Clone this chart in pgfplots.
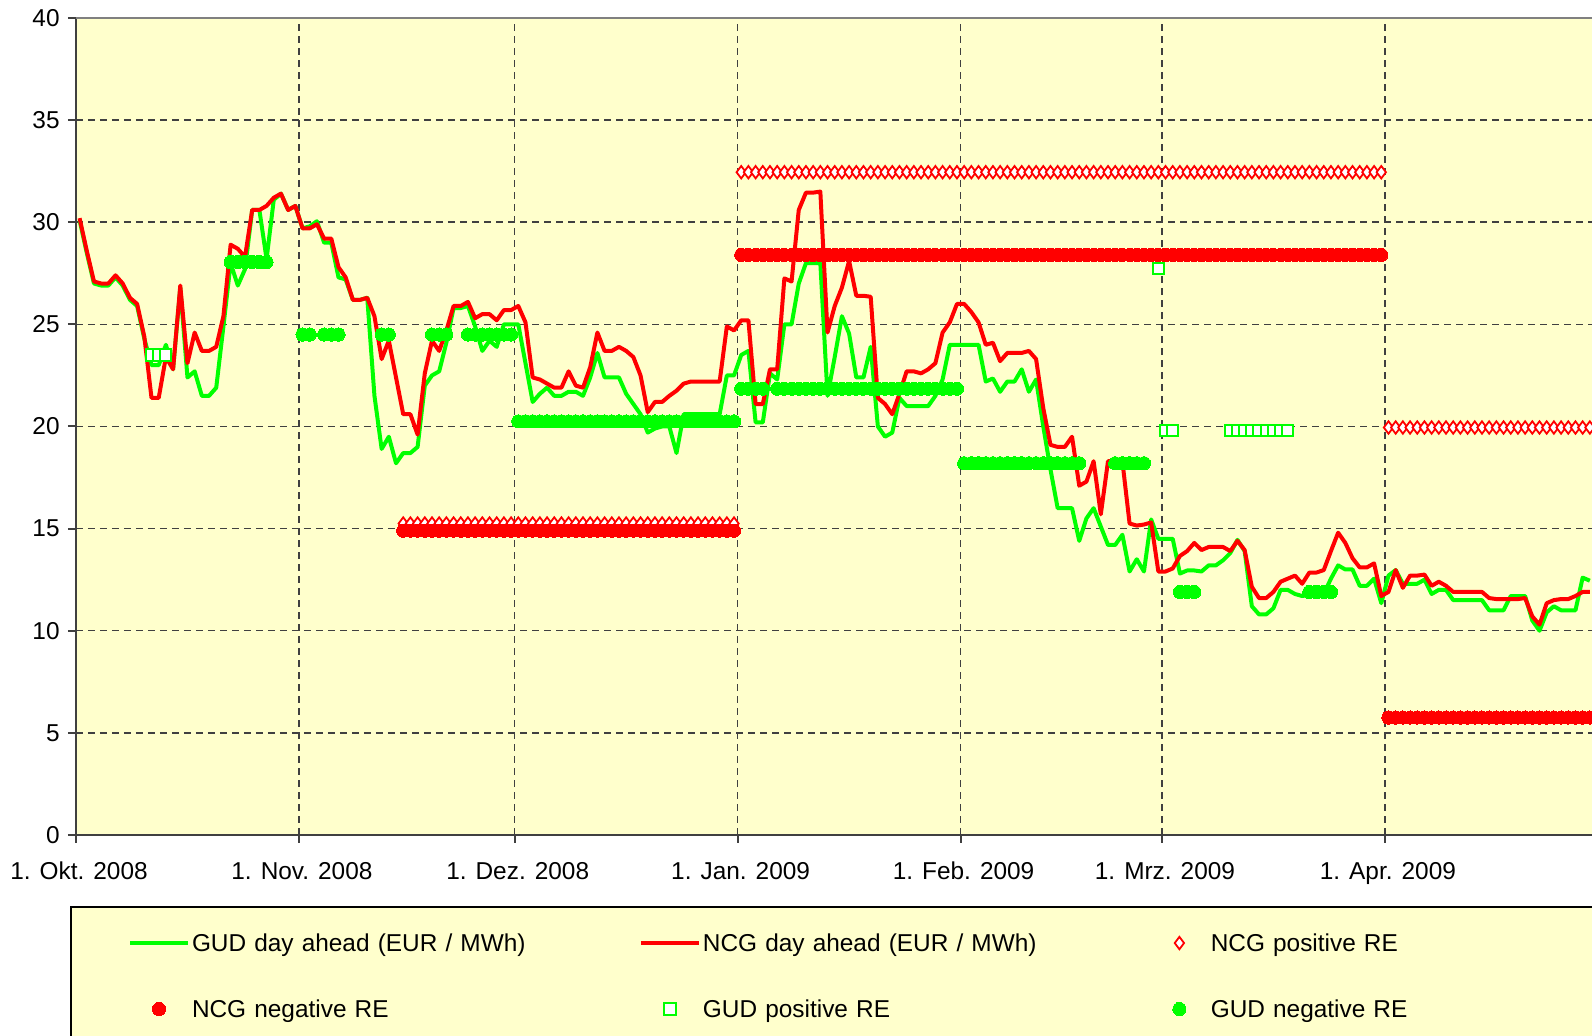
\documentclass[border=0pt]{standalone}
\usepackage{pgfplots}
\usepackage{pgfplotstable}
\pgfplotsset{compat=1.18}
\usepackage{fontspec}
\setmainfont{Liberation Sans}
\definecolor{bgyellow}{HTML}{FFFFCC}
\definecolor{xlgreen}{HTML}{00FF00}
\definecolor{xlred}{HTML}{FF0000}
\definecolor{griddark}{HTML}{404040}
\pgfplotsset{
  mylegimg/.style={legend image code/.code={\path (0pt,1.2pt) (29pt,1.2pt);\draw[mark repeat=2,mark phase=2,##1] plot coordinates {(0pt,1.2pt) (14.5pt,1.2pt) (29pt,1.2pt)};}},
}

\pgfplotstableread{
x y
0 30.1
1 28.5
2 27.0
3 26.9
4 26.9
5 27.3
6 26.9
7 26.2
8 25.9
9 24.3
10 23.0
11 23.0
12 24.0
13 22.8
14 26.8
15 22.4
16 22.7
17 21.5
18 21.5
19 21.9
20 24.9
21 28.0
22 26.9
23 27.7
24 30.6
25 30.6
26 28.2
27 31.1
28 31.4
29 30.6
30 30.8
31 29.7
32 29.8
33 30.05
34 29.0
35 29.0
36 27.3
37 27.2
38 26.2
39 26.2
40 26.3
41 21.5
42 18.9
43 19.5
44 18.2
45 18.7
46 18.7
47 19.0
48 22.0
49 22.5
50 22.7
51 24.1
52 25.8
53 25.8
54 25.9
55 24.9
56 23.7
57 24.2
58 23.9
59 25.0
60 25.0
61 25.0
62 23.1
63 21.2
64 21.6
65 21.9
66 21.5
67 21.5
68 21.7
69 21.7
70 21.5
71 22.4
72 23.6
73 22.4
74 22.4
75 22.4
76 21.6
77 21.1
78 20.6
79 19.7
80 19.9
81 20.0
82 20.0
83 18.7
84 20.6
85 20.6
86 20.6
87 20.6
88 20.6
89 20.6
90 22.5
91 22.5
92 23.5
93 23.7
94 20.2
95 20.2
96 22.6
97 22.3
98 25.0
99 25.0
100 27.0
101 28.0
102 28.0
103 28.0
104 21.5
105 23.4
106 25.4
107 24.55
108 22.4
109 22.4
110 23.9
111 20.0
112 19.5
113 19.7
114 21.4
115 21.0
116 21.0
117 21.0
118 21.0
119 21.5
120 22.3
121 24.0
122 24.0
123 24.0
124 24.0
125 24.0
126 22.2
127 22.35
128 21.7
129 22.2
130 22.2
131 22.8
132 21.7
133 22.3
134 20.0
135 17.9
136 16.0
137 16.0
138 16.0
139 14.4
140 15.5
141 16.0
142 15.1
143 14.2
144 14.2
145 14.7
146 12.9
147 13.5
148 12.9
149 15.45
150 14.5
151 14.5
152 14.5
153 12.8
154 12.95
155 12.95
156 12.9
157 13.2
158 13.2
159 13.45
160 13.8
161 14.45
162 13.9
163 11.2
164 10.8
165 10.8
166 11.1
167 12.0
168 12.0
169 11.8
170 11.7
171 11.75
172 11.75
173 11.8
174 12.55
175 13.2
176 13.0
177 13.0
178 12.2
179 12.2
180 12.55
181 11.35
182 12.7
183 12.97
184 12.3
185 12.3
186 12.3
187 12.5
188 11.8
189 12.0
190 12.0
191 11.5
192 11.5
193 11.5
194 11.5
195 11.5
196 11.0
197 11.0
198 11.0
199 11.7
200 11.7
201 11.7
202 10.5
203 10.0
204 10.9
205 11.2
206 11.0
207 11.0
208 11.0
209 12.6
210 12.45
}\gud

\pgfplotstableread{
x y
0 30.2
1 28.6
2 27.1
3 27.0
4 27.0
5 27.4
6 27.0
7 26.3
8 26.0
9 24.4
10 21.4
11 21.4
12 23.4
13 22.8
14 26.9
15 23.1
16 24.6
17 23.7
18 23.7
19 23.9
20 25.4
21 28.9
22 28.7
23 28.3
24 30.6
25 30.6
26 30.8
27 31.2
28 31.4
29 30.6
30 30.8
31 29.7
32 29.7
33 29.9
34 29.2
35 29.2
36 27.8
37 27.3
38 26.2
39 26.2
40 26.3
41 25.4
42 23.3
43 24.2
44 22.4
45 20.6
46 20.6
47 19.6
48 22.6
49 24.2
50 23.7
51 24.7
52 25.9
53 25.9
54 26.1
55 25.3
56 25.5
57 25.5
58 25.2
59 25.7
60 25.7
61 25.9
62 25.1
63 22.4
64 22.3
65 22.1
66 21.9
67 21.9
68 22.7
69 22.0
70 21.9
71 22.9
72 24.6
73 23.7
74 23.7
75 23.9
76 23.7
77 23.4
78 22.5
79 20.7
80 21.2
81 21.2
82 21.5
83 21.75
84 22.1
85 22.2
86 22.2
87 22.2
88 22.2
89 22.2
90 24.9
91 24.7
92 25.2
93 25.2
94 21.1
95 21.1
96 22.8
97 22.8
98 27.25
99 27.1
100 30.6
101 31.45
102 31.45
103 31.5
104 24.6
105 25.9
106 26.8
107 28.1
108 26.4
109 26.4
110 26.35
111 21.4
112 21.1
113 20.6
114 21.6
115 22.7
116 22.7
117 22.6
118 22.8
119 23.1
120 24.6
121 25.1
122 26.0
123 26.0
124 25.6
125 25.1
126 24.0
127 24.1
128 23.2
129 23.6
130 23.6
131 23.6
132 23.7
133 23.3
134 20.9
135 19.1
136 19.0
137 19.0
138 19.5
139 17.1
140 17.3
141 18.3
142 15.7
143 18.3
144 18.3
145 18.3
146 15.25
147 15.15
148 15.2
149 15.3
150 12.9
151 12.9
152 13.05
153 13.66
154 13.9
155 14.3
156 13.95
157 14.1
158 14.1
159 14.1
160 13.9
161 14.4
162 13.95
163 12.15
164 11.6
165 11.6
166 11.9
167 12.4
168 12.55
169 12.7
170 12.3
171 12.85
172 12.85
173 12.97
174 13.9
175 14.8
176 14.3
177 13.55
178 13.1
179 13.1
180 13.3
181 11.7
182 11.9
183 12.97
184 12.1
185 12.7
186 12.7
187 12.75
188 12.2
189 12.4
190 12.2
191 11.9
192 11.9
193 11.9
194 11.9
195 11.9
196 11.6
197 11.55
198 11.55
199 11.55
200 11.55
201 11.6
202 10.7
203 10.3
204 11.35
205 11.5
206 11.55
207 11.55
208 11.7
209 11.9
210 11.9
}\ncg

\begin{document}
\begin{tikzpicture}
\useasboundingbox (-38pt,-100.5pt) rectangle (758pt,417.5pt);
\fill[bgyellow] (-2.5pt,-36pt) rectangle (758pt,-100.5pt);
\draw[black, line width=0.6pt] (758pt,-36pt) -- (-2.5pt,-36pt) -- (-2.5pt,-100.5pt);
\begin{axis}[
  at={(0pt,0pt)}, anchor=south west,
  scale only axis, width=758pt, height=408.5pt,
  xmin=-0.5, xmax=210.3, ymin=0, ymax=40,
  axis x line*=bottom, axis y line*=left,
  axis line style={line width=1pt, color=griddark},
  axis background/.style={fill=bgyellow},
  tick align=outside, major tick length=4pt,
  tick style={line width=1pt, color=griddark},
  xtick={-0.5,30.5,60.5,91.5,122.5,150.5,181.5},
  xticklabels={1. Okt. 2008,1. Nov. 2008,1. Dez. 2008,1. Jan. 2009,1. Feb. 2009,1. Mrz. 2009,1. Apr. 2009},
  ytick={0,5,...,40},
  grid=major,
  major grid style={dash pattern=on 3.7pt off 2.3pt, line width=0.75pt, color=griddark},
  /pgf/number format/assume math mode=true,
  tick label style={font=\fontsize{12.2}{15}\selectfont},
  xticklabel style={anchor=north, inner sep=0pt, text height=9pt, text depth=0pt, yshift=-9pt, xshift=1.5pt},
  yticklabel style={anchor=east, inner sep=0pt, xshift=-4pt},
  legend columns=3,
  legend cell align=left,
  legend style={at={(axis description cs:0.0343,-0.1205)}, anchor=north west,
    draw=none, fill=none, inner sep=0pt, outer sep=0pt,
    row sep=21pt, column sep=0pt,
    nodes={inner xsep=1pt, inner ysep=0pt, text width=222.5pt, text height=9pt, text depth=3pt, align=left, font=\fontsize{12.2}{15}\selectfont}},
  mylegimg,
]
\addplot[xlgreen, line width=2pt, line join=round, no markers] table[x=x,y=y] {\gud};
\addlegendentry{GUD day ahead (EUR / MWh)}
\addplot[xlred, line width=2pt, line join=round, no markers] table[x=x,y=y] {\ncg};
\addlegendentry{NCG day ahead (EUR / MWh)}
\addplot[only marks, mark=diamond*, mark size=3.1pt, mark options={draw=xlred, fill=white, line width=0.9pt}] coordinates {
(45,15.25) (46,15.25) (47,15.25) (48,15.25) (49,15.25) (50,15.25) (51,15.25) (52,15.25) (53,15.25) (54,15.25)
(55,15.25) (56,15.25) (57,15.25) (58,15.25) (59,15.25) (60,15.25) (61,15.25) (62,15.25) (63,15.25) (64,15.25)
(65,15.25) (66,15.25) (67,15.25) (68,15.25) (69,15.25) (70,15.25) (71,15.25) (72,15.25) (73,15.25) (74,15.25)
(75,15.25) (76,15.25) (77,15.25) (78,15.25) (79,15.25) (80,15.25) (81,15.25) (82,15.25) (83,15.25) (84,15.25)
(85,15.25) (86,15.25) (87,15.25) (88,15.25) (89,15.25) (90,15.25) (91,15.25)
(92,32.45) (93,32.45) (94,32.45) (95,32.45) (96,32.45) (97,32.45) (98,32.45) (99,32.45) (100,32.45) (101,32.45)
(102,32.45) (103,32.45) (104,32.45) (105,32.45) (106,32.45) (107,32.45) (108,32.45) (109,32.45) (110,32.45) (111,32.45)
(112,32.45) (113,32.45) (114,32.45) (115,32.45) (116,32.45) (117,32.45) (118,32.45) (119,32.45) (120,32.45) (121,32.45)
(122,32.45) (123,32.45) (124,32.45) (125,32.45) (126,32.45) (127,32.45) (128,32.45) (129,32.45) (130,32.45) (131,32.45)
(132,32.45) (133,32.45) (134,32.45) (135,32.45) (136,32.45) (137,32.45) (138,32.45) (139,32.45) (140,32.45) (141,32.45)
(142,32.45) (143,32.45) (144,32.45) (145,32.45) (146,32.45) (147,32.45) (148,32.45) (149,32.45) (150,32.45) (151,32.45)
(152,32.45) (153,32.45) (154,32.45) (155,32.45) (156,32.45) (157,32.45) (158,32.45) (159,32.45) (160,32.45) (161,32.45)
(162,32.45) (163,32.45) (164,32.45) (165,32.45) (166,32.45) (167,32.45) (168,32.45) (169,32.45) (170,32.45) (171,32.45)
(172,32.45) (173,32.45) (174,32.45) (175,32.45) (176,32.45) (177,32.45) (178,32.45) (179,32.45) (180,32.45) (181,32.45)
(182,19.95) (183,19.95) (184,19.95) (185,19.95) (186,19.95) (187,19.95) (188,19.95) (189,19.95) (190,19.95) (191,19.95)
(192,19.95) (193,19.95) (194,19.95) (195,19.95) (196,19.95) (197,19.95) (198,19.95) (199,19.95) (200,19.95) (201,19.95)
(202,19.95) (203,19.95) (204,19.95) (205,19.95) (206,19.95) (207,19.95) (208,19.95) (209,19.95) (210,19.95)
};
\addlegendentry{NCG positive RE}
\addplot[only marks, mark=*, mark size=3.3pt, mark options={draw=xlred, fill=xlred, line width=0pt}] coordinates {
(45,14.9) (46,14.9) (47,14.9) (48,14.9) (49,14.9) (50,14.9) (51,14.9) (52,14.9) (53,14.9) (54,14.9)
(55,14.9) (56,14.9) (57,14.9) (58,14.9) (59,14.9) (60,14.9) (61,14.9) (62,14.9) (63,14.9) (64,14.9)
(65,14.9) (66,14.9) (67,14.9) (68,14.9) (69,14.9) (70,14.9) (71,14.9) (72,14.9) (73,14.9) (74,14.9)
(75,14.9) (76,14.9) (77,14.9) (78,14.9) (79,14.9) (80,14.9) (81,14.9) (82,14.9) (83,14.9) (84,14.9)
(85,14.9) (86,14.9) (87,14.9) (88,14.9) (89,14.9) (90,14.9) (91,14.9)
(92,28.4) (93,28.4) (94,28.4) (95,28.4) (96,28.4) (97,28.4) (98,28.4) (99,28.4) (100,28.4) (101,28.4)
(102,28.4) (103,28.4) (104,28.4) (105,28.4) (106,28.4) (107,28.4) (108,28.4) (109,28.4) (110,28.4) (111,28.4)
(112,28.4) (113,28.4) (114,28.4) (115,28.4) (116,28.4) (117,28.4) (118,28.4) (119,28.4) (120,28.4) (121,28.4)
(122,28.4) (123,28.4) (124,28.4) (125,28.4) (126,28.4) (127,28.4) (128,28.4) (129,28.4) (130,28.4) (131,28.4)
(132,28.4) (133,28.4) (134,28.4) (135,28.4) (136,28.4) (137,28.4) (138,28.4) (139,28.4) (140,28.4) (141,28.4)
(142,28.4) (143,28.4) (144,28.4) (145,28.4) (146,28.4) (147,28.4) (148,28.4) (149,28.4) (150,28.4) (151,28.4)
(152,28.4) (153,28.4) (154,28.4) (155,28.4) (156,28.4) (157,28.4) (158,28.4) (159,28.4) (160,28.4) (161,28.4)
(162,28.4) (163,28.4) (164,28.4) (165,28.4) (166,28.4) (167,28.4) (168,28.4) (169,28.4) (170,28.4) (171,28.4)
(172,28.4) (173,28.4) (174,28.4) (175,28.4) (176,28.4) (177,28.4) (178,28.4) (179,28.4) (180,28.4) (181,28.4)
(182,5.75) (183,5.75) (184,5.75) (185,5.75) (186,5.75) (187,5.75) (188,5.75) (189,5.75) (190,5.75) (191,5.75)
(192,5.75) (193,5.75) (194,5.75) (195,5.75) (196,5.75) (197,5.75) (198,5.75) (199,5.75) (200,5.75) (201,5.75)
(202,5.75) (203,5.75) (204,5.75) (205,5.75) (206,5.75) (207,5.75) (208,5.75) (209,5.75) (210,5.75)
};
\addlegendentry{NCG negative RE}
\addplot[only marks, mark=square*, mark size=2.8pt, mark options={draw=xlgreen, fill=white, line width=1pt}] coordinates {
(10,23.5) (11,23.5) (12,23.5) (150,27.75) (151,19.8) (152,19.8)
(160,19.8) (161,19.8) (162,19.8) (163,19.8) (164,19.8) (165,19.8) (166,19.8) (167,19.8) (168,19.8)
};
\addlegendentry{GUD positive RE}
\addplot[only marks, mark=*, mark size=3.3pt, mark options={draw=xlgreen, fill=xlgreen, line width=0pt}] coordinates {
(21,28.05) (22,28.05) (23,28.05) (24,28.05) (25,28.05) (26,28.05)
(31,24.5) (32,24.5) (34,24.5) (35,24.5) (36,24.5) (42,24.5) (43,24.5)
(49,24.5) (50,24.5) (51,24.5) (54,24.5) (55,24.5) (56,24.5) (57,24.5) (58,24.5) (59,24.5) (60,24.5)
(61,20.25) (62,20.25) (63,20.25) (64,20.25) (65,20.25) (66,20.25) (67,20.25) (68,20.25) (69,20.25) (70,20.25)
(71,20.25) (72,20.25) (73,20.25) (74,20.25) (75,20.25) (76,20.25) (77,20.25) (78,20.25) (79,20.25) (80,20.25)
(81,20.25) (82,20.25) (83,20.25) (84,20.25) (85,20.25) (86,20.25) (87,20.25) (88,20.25) (89,20.25) (90,20.25)
(91,20.25)
(92,21.85) (93,21.85) (94,21.85) (95,21.85) (97,21.85) (98,21.85) (99,21.85) (100,21.85) (101,21.85) (102,21.85)
(103,21.85) (104,21.85) (105,21.85) (106,21.85) (107,21.85) (108,21.85) (109,21.85) (110,21.85) (111,21.85) (112,21.85)
(113,21.85) (114,21.85) (115,21.85) (116,21.85) (117,21.85) (118,21.85) (119,21.85) (120,21.85) (121,21.85) (122,21.85)
(123,18.2) (124,18.2) (125,18.2) (126,18.2) (127,18.2) (128,18.2) (129,18.2) (130,18.2) (131,18.2) (132,18.2)
(133,18.2) (134,18.2) (135,18.2) (136,18.2) (137,18.2) (138,18.2) (139,18.2)
(144,18.2) (145,18.2) (146,18.2) (147,18.2) (148,18.2)
(153,11.9) (154,11.9) (155,11.9)
(171,11.9) (172,11.9) (173,11.9) (174,11.9)
};
\addlegendentry{GUD negative RE}
\end{axis}
\draw[color=gray, line width=1pt] (0pt,408.5pt) -- (758pt,408.5pt);
\end{tikzpicture}
\end{document}
